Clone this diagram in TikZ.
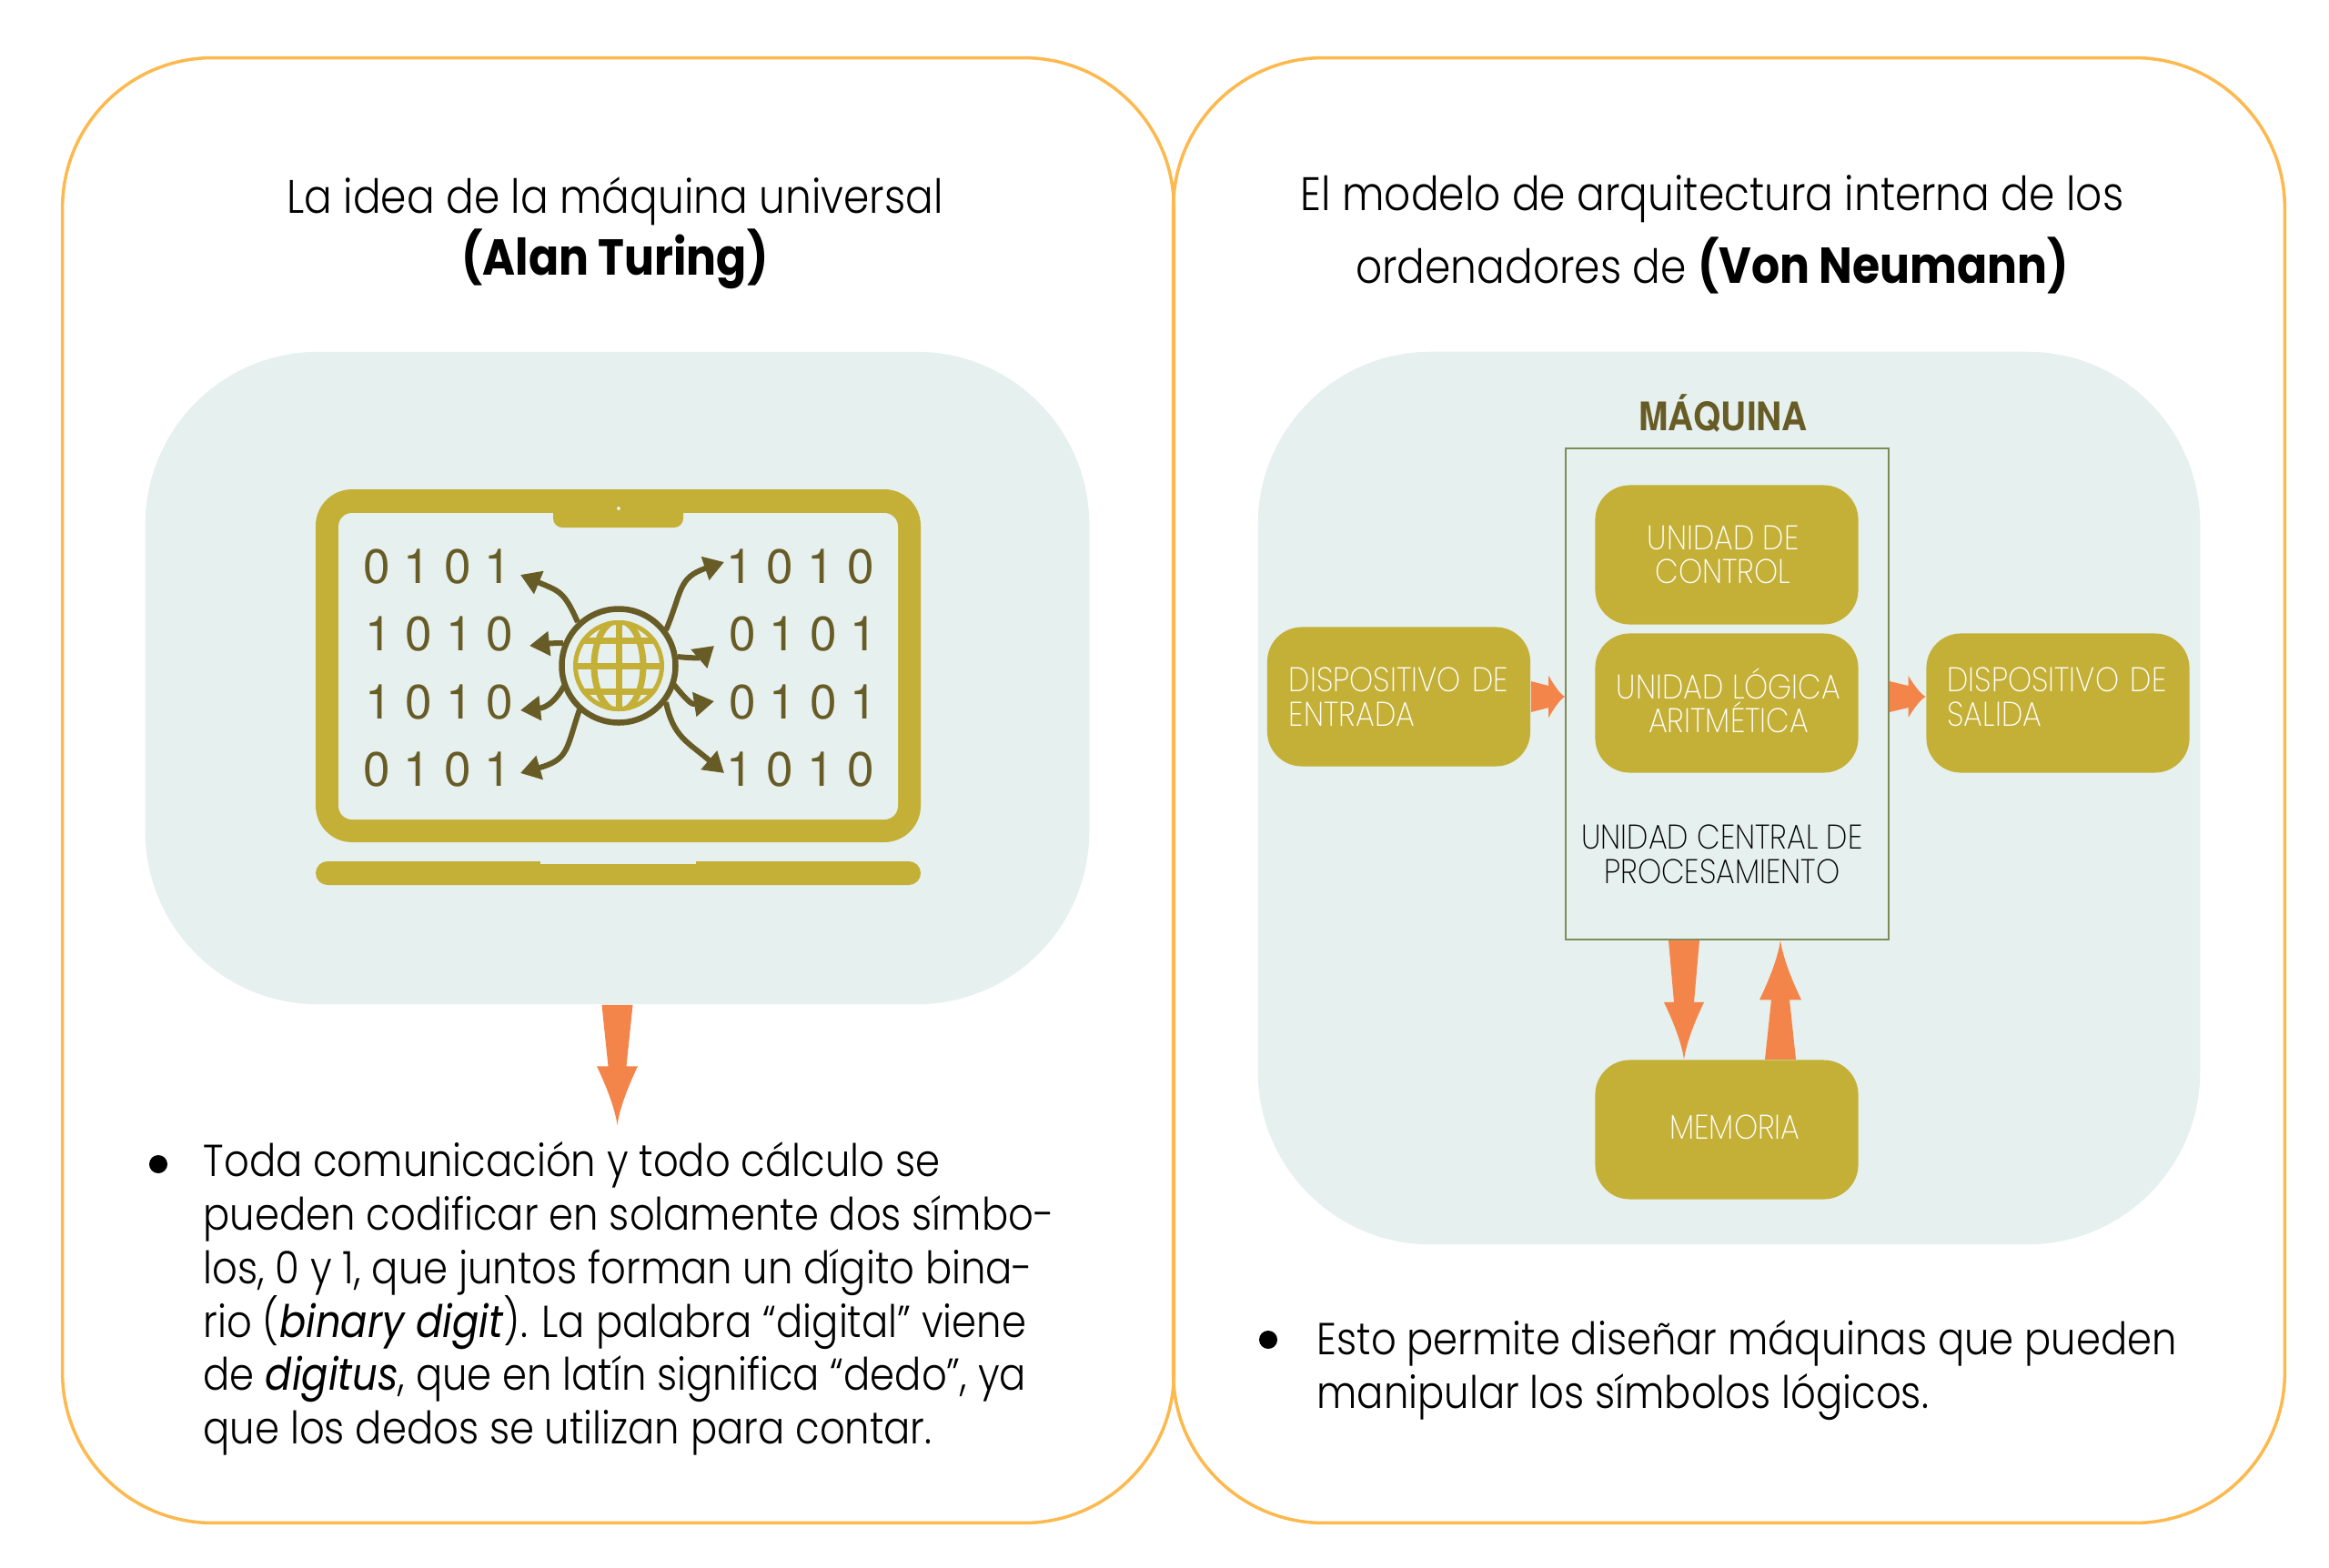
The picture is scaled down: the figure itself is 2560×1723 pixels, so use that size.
\documentclass[tikz,border=0pt]{standalone}
\usepackage{fontspec}
\usetikzlibrary{arrows.meta,calc}
\setmainfont{TeX Gyre Heros}
\newfontfamily\futura[UprightFont=* Light,BoldFont=* Bold,ItalicFont=* Italic,FakeStretch=0.88]{Poppins}
\newfontfamily\futurafina[UprightFont=* ExtraLight,FakeStretch=0.88]{Poppins}
\newfontfamily\estrecha[BoldFont=* Bold,FakeStretch=0.9]{TeX Gyre Heros}
\newcommand{\negrita}[1]{{\fontsize{15.8}{18.2}\selectfont\bfseries #1}}
\newcommand{\fuentecuerpo}{\futura\fontsize{14}{16.7}\selectfont\setlength{\lineskiplimit}{-10pt}}
\definecolor{claro}{HTML}{E6F0EE}
\definecolor{oro}{HTML}{C4B037}
\definecolor{oscuro}{HTML}{685C26}
\definecolor{naranja}{HTML}{F4854A}
\definecolor{marcolinea}{HTML}{FDB94E}
\definecolor{cajalinea}{HTML}{7F8C5A}
\tikzset{
    marco/.style={draw=marcolinea, line width=0.035cm, rounded corners=1.65cm, minimum width=12.21cm, minimum height=16.1cm, inner sep=0},
    fondo/.style={fill=claro, rounded corners=1.9cm, inner sep=0},
    unidad/.style={fill=oro, rounded corners=0.38cm, minimum width=2.89cm, minimum height=1.53cm, inner sep=0, text=white, font=\futurafina\fontsize{10.7}{10.7}\selectfont, align=center},
    titulo/.style={font=\futura\fontsize{14.7}{18}\selectfont, align=center, inner sep=0},
    cuerpo/.style={font=\fuentecuerpo, align=left, anchor=north west, inner sep=0},
    punto/.style={circle, fill=black, inner sep=0, minimum size=0.2cm},
    bit/.style={text=oscuro, anchor=west, inner sep=0, font=\fontsize{15.1}{18}\selectfont},
    rama/.style={draw=oscuro, line width=0.06cm, -{Triangle[length=0.22cm,width=0.26cm]}},
    flecha/.style n args={4}{draw=none, fill=naranja, to path={
        ($(\tikztostart)!#1!90:(\tikztotarget)$)
        -- ($(\tikztostart)!#3!(\tikztotarget)!#2!90:(\tikztotarget)$)
        -- ($(\tikztostart)!#3!(\tikztotarget)!#4!90:(\tikztotarget)$)
        .. controls ($(\tikztostart)!{#3+0.4*(1-#3)}!(\tikztotarget)!{0.45*#4}!90:(\tikztotarget)$)
        and ($(\tikztostart)!{#3+0.75*(1-#3)}!(\tikztotarget)!{0.1*#4}!90:(\tikztotarget)$)
        .. (\tikztotarget)
        .. controls ($(\tikztostart)!{#3+0.75*(1-#3)}!(\tikztotarget)!{0.1*#4}!-90:(\tikztotarget)$)
        and ($(\tikztostart)!{#3+0.4*(1-#3)}!(\tikztotarget)!{0.45*#4}!-90:(\tikztotarget)$)
        .. ($(\tikztostart)!#3!(\tikztotarget)!#4!-90:(\tikztotarget)$)
        -- ($(\tikztostart)!#3!(\tikztotarget)!#2!-90:(\tikztotarget)$)
        -- ($(\tikztostart)!#1!-90:(\tikztotarget)$) -- cycle}}
}
\begin{document}
\begin{tikzpicture}[x=0.01cm, y=-0.01cm]
    \useasboundingbox (0,0) rectangle (2560,1723);
    \fill[white] (0,0) rectangle (2560,1723);

    % paneles
    \node[marco] (marcoturing) at (679.5,869) {};
    \node[marco] (marconeumann) at (1900.5,869) {};
    \node[fondo, minimum width=10.37cm, minimum height=7.17cm] (fondoturing) at (678.5,745.5) {};
    \node[fondo, minimum width=10.35cm, minimum height=9.81cm] (fondoneumann) at (1900.5,877.5) {};

    % titulos
    \node[titulo] (tituloturing) at (676,256) {La idea de la máquina universal\\\negrita{(Alan Turing)}};
    \node[titulo] (tituloneumann) at (1882,258) {El modelo de arquitectura interna de los\\[0.13cm]ordenadores de \negrita{(Von Neumann)}};

    % portatil
    \fill[oro, rounded corners=0.4cm] (347,538) rectangle (1012,926);
    \fill[claro, rounded corners=0.15cm] (372,564) rectangle (987,901);
    \fill[oro, rounded corners=0.1cm] (608,550) rectangle (751,580);
    \fill[claro] (680,559) circle (2);
    \fill[oro, rounded corners=0.13cm] (347,947) rectangle (1012,973);
    \fill[claro] (594,947) rectangle (765,950);

    \foreach \i/\x/\y/\bits in {1/399/623/0 1 0 1, 2/401/697/1 0 1 0, 3/401/772/1 0 1 0, 4/399/846/0 1 0 1,
                                5/798/623/1 0 1 0, 6/801/697/0 1 0 1, 7/801/772/0 1 0 1, 8/798/846/1 0 1 0} {
        \node[bit] (bits\i) at (\x,\y) {\bits};
    }

    % globo
    \draw[oscuro, line width=0.065cm] (680,732) circle (62.5);
    \begin{scope}
        \clip (680,732) circle (50);
        \draw[oro, line width=0.07cm] (680,732) circle (48.5);
        \draw[oro, line width=0.07cm] (680,732) ellipse (27 and 50);
        \draw[oro, line width=0.07cm] (630,732) -- (730,732);
        \draw[oro, line width=0.07cm] (630,704) -- (730,704);
        \draw[oro, line width=0.07cm] (630,760) -- (730,760);
        \draw[oro, line width=0.07cm] (680,680) -- (680,784);
    \end{scope}

    \draw[rama] (635,684) .. controls (620,650) and (615,650) .. (572,632);
    \draw[rama] (619,707) .. controls (605,707) and (600,708) .. (582,710);
    \draw[rama] (620,754) .. controls (610,772) and (600,778) .. (572,781);
    \draw[rama] (637,780) .. controls (622,825) and (625,835) .. (572,850);
    \draw[rama] (732,693) .. controls (750,650) and (745,635) .. (796,618);
    \draw[rama] (745,722) .. controls (762,724) and (770,723) .. (785,710);
    \draw[rama] (741,753) .. controls (755,770) and (760,775) .. (785,771);
    \draw[rama] (732,772) .. controls (740,810) and (755,815) .. (796,850);

    \coordinate (flechaturing) at (678.5,1237);
    \draw[flecha={0.17cm}{0.1cm}{0.51}{0.225cm}] (fondoturing.south) to (flechaturing);

    % maquina
    \node[text=oscuro, font=\estrecha\bfseries\fontsize{12.3}{14}\selectfont, inner sep=0] (maquina) at (1894,454) {MÁQUINA};
    \node[draw=cajalinea, line width=0.015cm, minimum width=3.55cm, minimum height=5.4cm, inner sep=0] (cpu) at (1898.5,763) {};
    \node[unidad] (control) at (1898,610) {\hspace*{-0.08cm}UNIDAD DE\\\hspace*{-0.08cm}CONTROL};
    \node[unidad] (alu) at (1898,773) {\hspace*{0.04cm}UNIDAD LÓGICA\\\hspace*{0.04cm}ARITMÉTICA\rule[-0.06cm]{0pt}{0.06cm}};
    \node[font=\futurafina\fontsize{10.7}{10.7}\selectfont, align=center, inner sep=0] (cpulabel) at (1893,939) {UNIDAD CENTRAL DE\\PROCESAMIENTO};
    \node[unidad, align=left, text width=2.41cm, inner xsep=0.24cm] (entrada) at (1537.5,766) {DISPOSITIVO DE\\ENTRADA};
    \node[unidad, align=left, text width=2.43cm, inner xsep=0.23cm] (salida) at (2262,773) {DISPOSITIVO DE\\SALIDA\rule[-0.14cm]{0pt}{0.14cm}};
    \node[unidad] (memoria) at (1898,1242) {\hspace*{0.18cm}MEMORIA\rule[-0.06cm]{0pt}{0.06cm}};

    \coordinate (entradafin) at (cpu.west |- entrada.east);
    \coordinate (salidaini) at (cpu.east |- entrada.east);
    \coordinate (salidafin) at (salida.west |- entrada.east);
    \coordinate (bajaini) at ($(cpu.south)+(-47.5,0)$);
    \coordinate (bajafin) at (bajaini |- memoria.north);
    \coordinate (subeini) at ($(memoria.north)+(59,0)$);
    \coordinate (subefin) at (subeini |- cpu.south);
    \draw[flecha={0.17cm}{0.12cm}{0.52}{0.23cm}] (entrada.east) to (entradafin);
    \draw[flecha={0.17cm}{0.12cm}{0.52}{0.23cm}] (salidaini) to (salidafin);
    \draw[flecha={0.17cm}{0.11cm}{0.52}{0.22cm}] (bajaini) to (bajafin);
    \draw[flecha={0.17cm}{0.1cm}{0.5}{0.23cm}] (subeini) to (subefin);

    % textos
    \node[punto] (puntoturing) at (174,1280) {};
    \node[cuerpo] (textoturing) at (223,1255) {Toda comunicación y todo cálculo se\\pueden codificar en solamente dos símbo-\\los, 0 y 1, que juntos forman un dígito bina-\\rio (\textit{binary digit}). La palabra “digital” viene\\de \textit{digitus}, que en latín significa “dedo”, ya\\que los dedos se utilizan para contar.};
    \node[punto] (puntoneumann) at (1394,1473) {};
    \node[cuerpo] (textoneumann) at (1447,1451) {Esto permite diseñar máquinas que pueden\\manipular los símbolos lógicos.};
\end{tikzpicture}
\end{document}
